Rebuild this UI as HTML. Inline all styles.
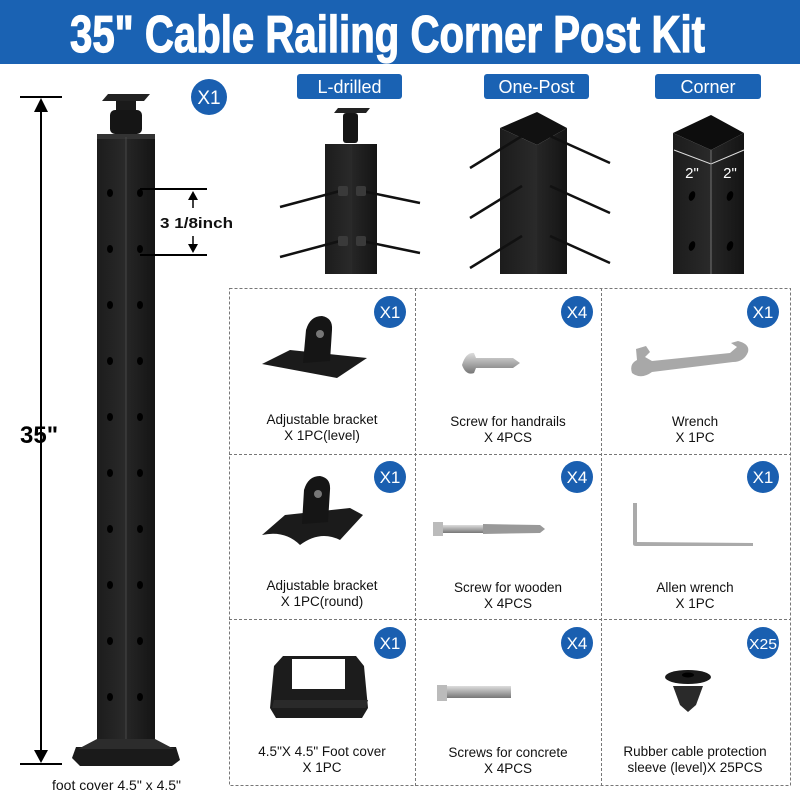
<!DOCTYPE html>
<html><head><meta charset="utf-8"><style>
html,body{margin:0;padding:0;background:#fff;}
svg{display:block;}
text{font-family:"Liberation Sans",sans-serif;}
</style></head><body>
<svg width="800" height="800" viewBox="0 0 800 800" xmlns="http://www.w3.org/2000/svg">
<defs>
<linearGradient id="pl" x1="0" x2="1"><stop offset="0" stop-color="#1c1c1c"/><stop offset="1" stop-color="#2a2a2a"/></linearGradient>
<linearGradient id="pr" x1="0" x2="1"><stop offset="0" stop-color="#262626"/><stop offset="1" stop-color="#141414"/></linearGradient>
<linearGradient id="met" x1="0" y1="0" x2="0" y2="1"><stop offset="0" stop-color="#ddd"/><stop offset="0.5" stop-color="#aaa"/><stop offset="1" stop-color="#777"/></linearGradient>
</defs>
<rect x="0" y="0" width="800" height="64" fill="#1a62b3"/>
<text x="70" y="52" font-weight="bold" font-size="52" fill="#fff" stroke="#fff" stroke-width="1.2" textLength="635" lengthAdjust="spacingAndGlyphs">35" Cable Railing Corner Post Kit</text>

<!-- left dimension -->
<line x1="20" y1="97" x2="62" y2="97" stroke="#000" stroke-width="2"/>
<line x1="20" y1="764" x2="62" y2="764" stroke="#000" stroke-width="2"/>
<line x1="41" y1="108" x2="41" y2="752" stroke="#000" stroke-width="2"/>
<polygon points="34,112 48,112 41,98" fill="#000"/>
<polygon points="34,750 48,750 41,763" fill="#000"/>
<text x="20" y="443" font-weight="bold" font-size="24" fill="#000">35"</text>

<!-- main post -->
<polygon points="108,94 150,94 144,101 102,101" fill="#222"/>
<rect x="116" y="101" width="20" height="10" fill="#1a1a1a"/>
<rect x="110" y="110" width="32" height="24" rx="5" fill="#151515"/>
<rect x="97" y="137" width="29" height="605" fill="url(#pl)"/>
<rect x="126" y="137" width="29" height="605" fill="url(#pr)"/>
<rect x="97" y="134" width="58" height="5" fill="#333"/>
<line x1="126" y1="137" x2="126" y2="742" stroke="#555" stroke-width="0.7"/>
<g fill="#000">
<ellipse cx="110" cy="193" rx="3" ry="4"/><ellipse cx="140" cy="193" rx="3" ry="4"/>
<ellipse cx="110" cy="249" rx="3" ry="4"/><ellipse cx="140" cy="249" rx="3" ry="4"/>
<ellipse cx="110" cy="305" rx="3" ry="4"/><ellipse cx="140" cy="305" rx="3" ry="4"/>
<ellipse cx="110" cy="361" rx="3" ry="4"/><ellipse cx="140" cy="361" rx="3" ry="4"/>
<ellipse cx="110" cy="417" rx="3" ry="4"/><ellipse cx="140" cy="417" rx="3" ry="4"/>
<ellipse cx="110" cy="473" rx="3" ry="4"/><ellipse cx="140" cy="473" rx="3" ry="4"/>
<ellipse cx="110" cy="529" rx="3" ry="4"/><ellipse cx="140" cy="529" rx="3" ry="4"/>
<ellipse cx="110" cy="585" rx="3" ry="4"/><ellipse cx="140" cy="585" rx="3" ry="4"/>
<ellipse cx="110" cy="641" rx="3" ry="4"/><ellipse cx="140" cy="641" rx="3" ry="4"/>
<ellipse cx="110" cy="697" rx="3" ry="4"/><ellipse cx="140" cy="697" rx="3" ry="4"/>
</g>
<polygon points="76,747 176,747 180,760 172,766 80,766 72,758" fill="#1a1a1a"/>
<polygon points="97,739 155,739 174,749 78,749" fill="#2c2c2c"/>
<text x="52" y="790" font-size="14" fill="#111">foot cover 4.5" x 4.5"</text>

<!-- 3 1/8 dimension -->
<line x1="140" y1="189" x2="207" y2="189" stroke="#000" stroke-width="2"/>
<line x1="140" y1="255" x2="207" y2="255" stroke="#000" stroke-width="2"/>
<line x1="193" y1="196" x2="193" y2="208" stroke="#000" stroke-width="1.5"/>
<line x1="193" y1="236" x2="193" y2="248" stroke="#000" stroke-width="1.5"/>
<polygon points="188,200 198,200 193,191" fill="#000"/>
<polygon points="188,244 198,244 193,253" fill="#000"/>
<text x="160" y="228" font-weight="bold" font-size="15" fill="#111" textLength="73" lengthAdjust="spacingAndGlyphs">3 1/8inch</text>

<circle cx="209" cy="97" r="18" fill="#1a5fb0"/>
<text x="209" y="104" text-anchor="middle" font-size="19" fill="#fff">X1</text>

<!-- tag labels -->
<rect x="297" y="74" width="105" height="25" rx="3" fill="#1a62b3"/>
<text x="349.5" y="93" text-anchor="middle" font-size="18" fill="#fff">L-drilled</text>
<rect x="484" y="74" width="105" height="25" rx="3" fill="#1a62b3"/>
<text x="536.5" y="93" text-anchor="middle" font-size="18" fill="#fff">One-Post</text>
<rect x="655" y="74" width="106" height="25" rx="3" fill="#1a62b3"/>
<text x="708" y="93" text-anchor="middle" font-size="18" fill="#fff">Corner</text>

<!-- L-drilled post -->
<polygon points="338,108 370,108 366,113 334,113" fill="#222"/>
<rect x="343" y="113" width="15" height="30" rx="3" fill="#151515"/>
<rect x="325" y="144" width="27" height="130" fill="url(#pl)"/>
<rect x="352" y="144" width="25" height="130" fill="url(#pr)"/>
<g stroke="#111" stroke-width="2.5">
<line x1="280" y1="207" x2="340" y2="191"/><line x1="420" y1="203" x2="362" y2="191"/>
<line x1="280" y1="257" x2="340" y2="241"/><line x1="420" y1="253" x2="362" y2="241"/>
</g>
<g fill="#3a3a3a"><rect x="338" y="186" width="10" height="10" rx="2"/><rect x="356" y="186" width="10" height="10" rx="2"/><rect x="338" y="236" width="10" height="10" rx="2"/><rect x="356" y="236" width="10" height="10" rx="2"/></g>

<!-- One-post -->
<polygon points="500,128 537,112 567,128 537,145" fill="#111"/>
<polygon points="500,128 537,145 537,274 500,274" fill="url(#pl)"/>
<polygon points="537,145 567,128 567,274 537,274" fill="url(#pr)"/>
<g stroke="#111" stroke-width="2.5">
<line x1="470" y1="168" x2="522" y2="136"/><line x1="610" y1="163" x2="550" y2="136"/>
<line x1="470" y1="218" x2="522" y2="186"/><line x1="610" y1="213" x2="550" y2="186"/>
<line x1="470" y1="268" x2="522" y2="236"/><line x1="610" y1="263" x2="550" y2="236"/>
</g>

<!-- Corner -->
<polygon points="673,133 711,115 744,133 711,150" fill="#0d0d0d"/>
<polygon points="673,133 711,150 711,274 673,274" fill="url(#pl)"/>
<polygon points="711,150 744,133 744,274 711,274" fill="url(#pr)"/>
<polyline points="674,150 711,164 744,150" fill="none" stroke="#ddd" stroke-width="1"/>
<line x1="711" y1="150" x2="711" y2="274" stroke="#888" stroke-width="0.8"/>
<text x="692" y="178" text-anchor="middle" font-size="15" fill="#fff">2"</text>
<text x="730" y="178" text-anchor="middle" font-size="15" fill="#fff">2"</text>
<g fill="#000"><ellipse cx="692" cy="196" rx="3" ry="5" transform="rotate(20 692 196)"/><ellipse cx="730" cy="196" rx="3" ry="5" transform="rotate(20 730 196)"/><ellipse cx="692" cy="246" rx="3" ry="5" transform="rotate(20 692 246)"/><ellipse cx="730" cy="246" rx="3" ry="5" transform="rotate(20 730 246)"/></g>

<!-- grid -->
<g stroke="#777" stroke-width="1" stroke-dasharray="3,2" fill="none">
<rect x="229.5" y="288.5" width="561" height="497"/>
<line x1="415.5" y1="288" x2="415.5" y2="786"/>
<line x1="601.5" y1="288" x2="601.5" y2="786"/>
<line x1="229" y1="454.5" x2="791" y2="454.5"/>
<line x1="229" y1="619.5" x2="791" y2="619.5"/>
</g>

<!-- badges -->
<g fill="#1a5fb0">
<circle cx="390" cy="312" r="16"/><circle cx="577" cy="312" r="16"/><circle cx="763" cy="312" r="16"/>
<circle cx="390" cy="477" r="16"/><circle cx="577" cy="477" r="16"/><circle cx="763" cy="477" r="16"/>
<circle cx="390" cy="643" r="16"/><circle cx="577" cy="643" r="16"/><circle cx="763" cy="643" r="16"/>
</g>
<g fill="#fff" font-size="17" text-anchor="middle">
<text x="390" y="318">X1</text><text x="577" y="318">X4</text><text x="763" y="318">X1</text>
<text x="390" y="483">X1</text><text x="577" y="483">X4</text><text x="763" y="483">X1</text>
<text x="390" y="649">X1</text><text x="577" y="649">X4</text><text x="763" y="649" font-size="15" textLength="28" lengthAdjust="spacingAndGlyphs">X25</text>
</g>

<!-- labels -->
<g fill="#111" font-size="13.5" text-anchor="middle">
<text x="322" y="424">Adjustable bracket</text><text x="322" y="440">X 1PC(level)</text>
<text x="508" y="426">Screw for handrails</text><text x="508" y="442">X 4PCS</text>
<text x="695" y="426">Wrench</text><text x="695" y="442">X 1PC</text>
<text x="322" y="590">Adjustable bracket</text><text x="322" y="606">X 1PC(round)</text>
<text x="508" y="592">Screw for wooden</text><text x="508" y="608">X 4PCS</text>
<text x="695" y="592">Allen wrench</text><text x="695" y="608">X 1PC</text>
<text x="322" y="756">4.5"X 4.5" Foot cover</text><text x="322" y="772">X 1PC</text>
<text x="508" y="757">Screws for concrete</text><text x="508" y="773">X 4PCS</text>
<text x="695" y="756">Rubber cable protection</text><text x="695" y="772">sleeve (level)X 25PCS</text>
</g>

<!-- items row1 -->
<polygon points="262,364 290,350 367,358 337,378" fill="#1b1b1b"/>
<path d="M303,363 L306,330 Q310,316 322,316 Q333,318 332,330 L330,361 Z" fill="#151515"/>
<circle cx="320" cy="334" r="4" fill="#777"/>
<path d="M462,365 Q466,352 474,353 L476,358 L513,358 L520,363 L513,368 L476,368 L474,373 Q466,376 462,365 Z" fill="url(#met)"/>
<path d="M636,349 L646,346 L650,352 L645,357 L652,361 L730,353 L737,347 L731,343 L738,341 Q750,344 748,352 Q744,362 733,362 L652,372 Q641,380 632,373 Q629,364 637,360 Z" fill="#a8a8a8"/>
<!-- row2 -->
<path d="M262,535 L285,515 L350,508 L363,515 L340,540 Q320,530 300,545 Q285,530 262,535 Z" fill="#1b1b1b"/>
<path d="M302,524 L304,490 Q308,476 320,476 Q331,478 330,490 L328,522 Z" fill="#151515"/>
<circle cx="318" cy="494" r="4" fill="#777"/>
<rect x="433" y="522" width="10" height="14" fill="#bbb"/>
<rect x="443" y="525" width="40" height="8" fill="url(#met)"/>
<path d="M483,524 L540,525 L545,529 L540,533 L483,534 Z" fill="#999"/>
<path d="M633,503 L633,544 Q633,546 636,546 L753,546 L753,543 L637,542 L637,503 Z" fill="#aaa"/>
<!-- row3 -->
<polygon points="283,656 356,656 364,666 368,708 362,718 276,718 270,708 274,666" fill="#1c1c1c"/>
<polygon points="274,700 368,700 366,708 272,708" fill="#2a2a2a"/>
<rect x="292" y="659" width="53" height="30" fill="#fff"/>
<rect x="437" y="685" width="10" height="16" fill="#bbb"/>
<rect x="447" y="686" width="64" height="12" fill="url(#met)"/>
<ellipse cx="688" cy="677" rx="23" ry="7" fill="#1a1a1a"/>
<ellipse cx="688" cy="675" rx="6" ry="2.5" fill="#000"/>
<polygon points="673,686 703,686 696,705 688,712 680,705" fill="#2a2a2a"/>
</svg>
</body></html>
